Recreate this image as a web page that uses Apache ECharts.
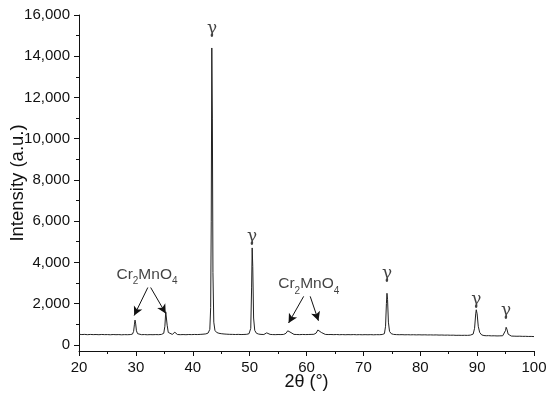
<!DOCTYPE html>
<html><head><meta charset="utf-8">
<script src="https://cdn.jsdelivr.net/npm/echarts@6/dist/echarts.min.js"></script>
<style>html,body{margin:0;padding:0;background:#fff}#c{width:550px;height:396px}</style>
</head><body><div id="c"></div>
<script>
// 2θ positions (degrees)
var twoTheta = [20.0,20.5,21.0,21.5,22.0,22.5,23.0,23.5,24.0,24.5,25.0,25.5,26.0,26.5,27.0,27.5,28.0,28.5,29.0,29.4,29.6,29.75,29.85,29.95,30.1,30.3,30.6,31.0,31.5,32.0,32.5,33.0,33.5,34.0,34.5,34.9,35.1,35.25,35.35,35.5,35.7,36.0,36.4,36.7,36.85,37.0,37.3,37.8,38.3,38.8,39.3,39.8,40.3,40.8,41.3,41.8,42.3,42.7,43.0,43.15,43.25,43.35,43.45,43.55,43.7,43.9,44.2,44.6,45.0,45.5,46.0,46.5,47.0,47.5,48.0,48.5,49.0,49.5,49.9,50.2,50.35,50.45,50.55,50.7,50.9,51.2,51.6,52.0,52.5,52.8,53.0,53.2,53.6,54.0,54.5,55.0,55.5,56.0,56.4,56.7,56.85,57.1,57.4,57.8,58.3,58.8,59.3,59.8,60.3,60.8,61.3,61.7,62.0,62.15,62.35,62.6,62.9,63.3,63.8,64.3,64.8,65.3,65.8,66.3,66.8,67.3,67.8,68.3,68.8,69.3,69.8,70.3,70.8,71.3,71.8,72.3,72.8,73.3,73.7,73.9,74.05,74.15,74.25,74.4,74.6,74.9,75.3,75.8,76.3,76.8,77.3,77.8,78.3,78.8,79.3,79.8,80.3,80.8,81.3,81.8,82.3,82.8,83.3,83.8,84.3,84.8,85.3,85.8,86.3,86.8,87.3,87.8,88.3,88.8,89.3,89.55,89.75,89.85,90.0,90.2,90.45,90.8,91.2,91.6,92.0,92.5,93.0,93.5,94.0,94.5,94.8,95.0,95.1,95.25,95.45,95.7,96.0,96.5,97.0,97.5,98.0,98.5,99.0,99.5,100.0];
// Intensity (a.u.)
var intensity = [510,498,505,492,503,495,500,490,502,494,497,488,499,491,496,486,495,490,497,520,650,1000,1200,1050,680,540,500,492,498,488,495,490,497,492,505,560,900,1600,1550,950,600,520,505,580,610,540,500,492,498,490,500,495,502,498,505,515,530,570,750,1800,6000,14400,11000,3500,1100,700,600,560,540,525,515,508,505,500,505,498,502,510,540,800,2800,4700,3800,1300,700,560,520,505,500,540,580,540,505,498,493,500,496,505,560,680,700,620,540,505,500,495,502,497,500,505,510,570,720,780,720,600,530,505,498,500,493,500,490,497,489,495,490,497,488,494,487,493,488,494,486,493,490,500,540,900,2000,2500,2200,1100,650,540,505,495,490,493,486,490,484,489,482,487,480,485,478,482,476,480,472,476,468,472,465,468,460,463,458,462,458,470,520,800,1500,1700,1500,900,600,480,450,440,445,435,438,430,435,440,500,700,850,750,520,450,425,420,415,418,410,412,405,407,400];
// Peak annotations
var gammaLabels = [[43.4,15350],[50.45,5250],[74.15,3450],[89.85,2200],[95.1,1650]];
var phaseLabels = [[31.95,3470],[60.4,3000]];
var phaseArrows = [
  [[32.1,2780],[29.7,1420]],
  [[32.6,2780],[35.25,1520]],
  [[59.5,2350],[56.85,1060]],
  [[60.65,2350],[62.1,1170]]
];
var xTicks = [20,30,40,50,60,70,80,90,100];
var yTicks = [0,2000,4000,6000,8000,10000,12000,14000,16000];
var yMinorTicks = [1000,3000,5000,7000,9000,11000,13000,15000];

var FONT = 'Liberation Sans';
var chart = echarts.init(document.getElementById('c'), null, {renderer:'canvas'});
var lineData = twoTheta.map(function(x,i){return [x,intensity[i]];});
var fmt = function(v){return Number(v).toLocaleString('en-US');};

chart.setOption({
  animation:false,
  backgroundColor:'#fff',
  grid:{left:79,right:16,top:15,bottom:45,containLabel:false,outerBoundsMode:'none'},
  xAxis:{
    type:'value',min:20,max:100,interval:10,
    name:'2\u03b8 (\u00b0)',nameLocation:'middle',nameGap:22,nameMoveOverlap:false,
    nameTextStyle:{fontFamily:FONT,fontSize:18,color:'#111'},
    axisLine:{onZero:false,lineStyle:{color:'#111',width:1}},
    axisTick:{show:true,inside:false,length:5,lineStyle:{color:'#111'}},
    minorTick:{show:true,splitNumber:2,length:3,lineStyle:{color:'#111'}},
    axisLabel:{fontFamily:FONT,fontSize:15,color:'#111',margin:9},
    splitLine:{show:false}
  },
  yAxis:[{
    type:'value',min:-300,max:16000,position:'left',
    name:'Intensity (a.u.)',nameLocation:'middle',nameGap:52,nameMoveOverlap:false,
    nameTextStyle:{fontFamily:FONT,fontSize:18.5,color:'#111'},
    axisLine:{show:true,lineStyle:{color:'#111',width:1}},
    axisTick:{show:true,length:5,customValues:yTicks,lineStyle:{color:'#111'}},
    axisLabel:{fontFamily:FONT,fontSize:15,color:'#111',margin:9,customValues:yTicks,formatter:fmt},
    splitLine:{show:false}
  },{
    type:'value',min:-300,max:16000,position:'left',
    axisLine:{show:false},
    axisTick:{show:true,length:3,customValues:yMinorTicks,lineStyle:{color:'#111'}},
    axisLabel:{show:false},
    splitLine:{show:false}
  }],
  series:[{
    type:'line',data:lineData,showSymbol:false,symbol:'none',
    lineStyle:{color:'#222',width:1},
    markLine:{
      silent:true,symbol:['none','arrow'],symbolSize:[7,9],
      lineStyle:{color:'#111',width:1,type:'solid'},
      label:{show:false},
      data:phaseArrows.map(function(a){return [{coord:a[0]},{coord:a[1]}];})
    }
  },{
    type:'scatter',data:gammaLabels,symbolSize:0,silent:true,
    label:{show:true,position:'inside',formatter:'\u03b3',fontFamily:'DejaVu Serif',fontSize:17,color:'#111'}
  },{
    type:'scatter',data:phaseLabels,symbolSize:0,silent:true,
    label:{show:true,position:'inside',
      formatter:'{n|Cr}{s|2}{n|MnO}{s|4}',
      rich:{n:{fontFamily:FONT,fontSize:15.5,color:'#111',lineHeight:18,verticalAlign:'bottom'},
            s:{fontFamily:FONT,fontSize:10,color:'#111',lineHeight:18,verticalAlign:'bottom',padding:[0,0,-4,0]}}}
  }]
});
</script></body></html>
